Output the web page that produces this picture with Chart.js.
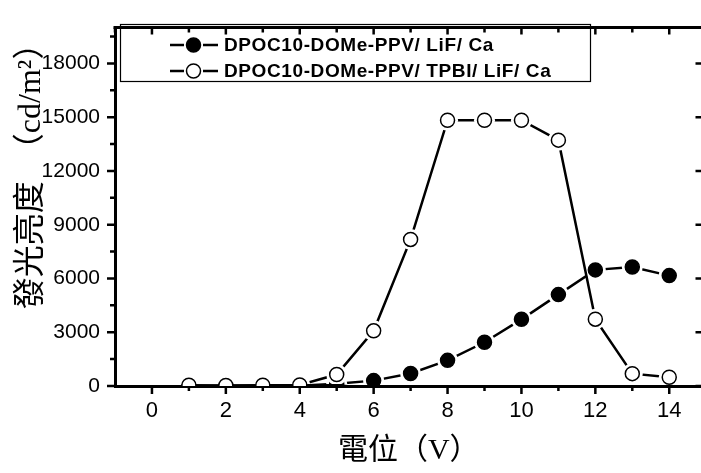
<!DOCTYPE html>
<html>
<head>
<meta charset="utf-8">
<script src="https://cdn.jsdelivr.net/npm/chart.js@4/dist/chart.umd.min.js"></script>
<style>
  html, body { margin: 0; padding: 0; background: #fff; overflow: hidden; }
  canvas { display: block; }
</style>
</head>
<body>
<canvas id="lumChart" width="713" height="473" style="width:713px;height:473px"></canvas>
<script>
// data
const voltage = [1, 2, 3, 4, 5, 6, 7, 8, 9, 10, 11, 12, 13, 14];
const lifCa = [0, 10, 10, 20, 120, 300, 700, 1430, 2440, 3720, 5100, 6480, 6640, 6160];
const tpbiLifCa = [40, 30, 40, 60, 640, 3080, 8180, 14830, 14830, 14830, 13720, 3730, 690, 490];
const seriesLabels = ['DPOC10-DOMe-PPV/ LiF/ Ca', 'DPOC10-DOMe-PPV/ TPBI/ LiF/ Ca'];
const xTicks = [0, 2, 4, 6, 8, 10, 12, 14];
const yTicks = [0, 3000, 6000, 9000, 12000, 15000, 18000];

const toPoints = arr => voltage.map((v, i) => ({ x: v, y: arr[i] }));

function seriesSets(values, filled, base) {
    const pts = toPoints(values);
    return [
        { data: pts, showLine: true, borderColor: '#000', borderWidth: 2.5, pointRadius: 0, tension: 0, order: base + 2 },
        // white halo so the line stops short of each symbol
        { data: pts, showLine: false, pointRadius: 10.5, pointBackgroundColor: '#fff', pointBorderWidth: 0,
          order: base + 1, clip: { left: 0, right: 0, top: 0, bottom: -2 } },
        { data: pts, showLine: false, pointRadius: 7, pointBackgroundColor: filled ? '#000' : '#fff',
          pointBorderColor: '#000', pointBorderWidth: 1.5, order: base }
    ];
}

const framePlugin = {
    id: 'frame',
    beforeDatasetsDraw(chart) {
        const { ctx, chartArea: a, scales: { x, y } } = chart;
        ctx.save();
        ctx.strokeStyle = '#000';
        ctx.lineWidth = 3;
        ctx.beginPath();
        ctx.moveTo(a.left - 1.5, a.top); ctx.lineTo(a.right + 2, a.top);
        ctx.moveTo(a.right, a.top); ctx.lineTo(a.right, a.bottom);
        ctx.stroke();
        ctx.lineWidth = 2.5;
        ctx.beginPath();
        for (let v = -1; v <= 14; v++) {
            const px = x.getPixelForValue(v);
            const major = v % 2 === 0;
            if (v > -1) {
                ctx.moveTo(px, a.bottom); ctx.lineTo(px, a.bottom + (major ? 8 : 5));
            }
            ctx.moveTo(px, a.top); ctx.lineTo(px, a.top + (major ? 7 : 5));
        }
        for (let v = 0; v <= 19500; v += 1500) {
            const py = y.getPixelForValue(v);
            const major = v % 3000 === 0;
            ctx.moveTo(a.left, py); ctx.lineTo(a.left - (major ? 8 : 5), py);
            if (major) { ctx.moveTo(a.right, py); ctx.lineTo(a.right - 7, py); }
        }
        ctx.stroke();
        ctx.restore();
    },
    afterDraw(chart) {
        const { ctx } = chart;
        ctx.save();
        ctx.strokeStyle = '#000';
        ctx.lineWidth = 1.2;
        ctx.strokeRect(120.5, 24.5, 470, 57);
        const rows = [45, 71];
        rows.forEach((ry, i) => {
            ctx.lineWidth = 2.5;
            ctx.beginPath();
            ctx.moveTo(170, ry); ctx.lineTo(184, ry);
            ctx.moveTo(203, ry); ctx.lineTo(218, ry);
            ctx.stroke();
            ctx.beginPath();
            ctx.arc(193.5, ry, 7, 0, Math.PI * 2);
            ctx.fillStyle = i === 0 ? '#000' : '#fff';
            ctx.fill();
            ctx.lineWidth = 1.5;
            ctx.stroke();
            ctx.fillStyle = '#000';
            ctx.font = 'bold 19px "Liberation Sans", Arial, sans-serif';
            ctx.letterSpacing = '0.6px';
            ctx.textBaseline = 'middle';
            ctx.textAlign = 'left';
            ctx.fillText(seriesLabels[i], 224, ry + 1);
        });
        ctx.restore();
    }
};

new Chart(document.getElementById('lumChart'), {
    type: 'line',
    data: {
        datasets: [
            ...seriesSets(lifCa, true, 4),
            ...seriesSets(tpbiLifCa, false, 1)
        ]
    },
    options: {
        responsive: false,
        animation: false,
        devicePixelRatio: 1,
        layout: { padding: { top: 10, right: 0, left: 0, bottom: 0 } },
        plugins: { legend: { display: false }, tooltip: { enabled: false } },
        scales: {
            x: {
                type: 'linear',
                min: -1,
                max: 14.9,
                afterBuildTicks: s => { s.ticks = xTicks.map(v => ({ value: v })); },
                afterFit: s => { s.height = 87; },
                grid: { display: false, drawTicks: false },
                border: { display: true, color: '#000', width: 3 },
                ticks: { color: '#000', padding: 12, callback: v => String(v),
                         font: { family: '"Liberation Sans", Arial, sans-serif', size: 22 } },
                title: {
                    display: true,
                    text: '電位（V）',
                    color: '#000',
                    padding: { top: 0, bottom: 4 },
                    font: { family: '"Liberation Serif", "Noto Sans CJK TC", serif', size: 30 }
                }
            },
            y: {
                min: 0,
                max: 20000,
                afterBuildTicks: s => { s.ticks = yTicks.map(v => ({ value: v })); },
                afterFit: s => { s.width = 115; },
                grid: { display: false, drawTicks: false },
                border: { display: true, color: '#000', width: 3 },
                ticks: { color: '#000', padding: 15, callback: v => String(v),
                         font: { family: '"Liberation Sans", Arial, sans-serif', size: 21 } },
                title: {
                    display: true,
                    text: '發光亮度  （cd/m²）',
                    align: 'end',
                    color: '#000',
                    padding: { top: 12, bottom: 0 },
                    font: { family: '"Liberation Serif", "Noto Sans CJK TC", serif', size: 32 }
                }
            }
        }
    },
    plugins: [framePlugin]
});
</script>
</body>
</html>
